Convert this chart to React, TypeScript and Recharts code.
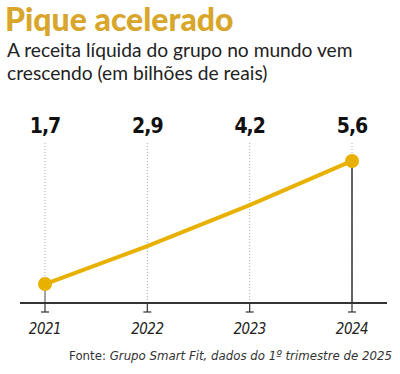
import { LineChart, Line, XAxis, YAxis, ReferenceLine } from "recharts";

const years = ["2021", "2022", "2023", "2024"];
const revenue = [1.7, 2.9, 4.2, 5.6];
const valueLabels = ["1,7", "2,9", "4,2", "5,6"];

const data = years.map((year, i) => ({ year, value: revenue[i], label: valueLabels[i] }));

const GOLD = "#E8B100";
const NARROW = '"Liberation Sans Narrow", "DejaVu Sans Condensed", sans-serif';
const Y_MIN = 1.1;

const BottomTick = (props: any) => {
  const { x, y, payload } = props;
  return (
    <g>
      <line x1={x} y1={y - 8} x2={x} y2={y + 1} stroke="#333" strokeWidth={1.2} />
      <line x1={x - 4} y1={y + 1} x2={x + 4} y2={y + 1} stroke="#333" strokeWidth={1.2} />
      <text x={x} y={y + 23} textAnchor="middle" fontSize={15} fontStyle="italic" fill="#222" fontFamily={NARROW} letterSpacing={-0.5}>
        {payload.value}
      </text>
    </g>
  );
};

const TopTick = (props: any) => {
  const { x, y, index } = props;
  return (
    <text x={x} y={y - 1} textAnchor="middle" fontSize={21} fontWeight="bold" fill="#111" fontFamily={NARROW} letterSpacing={-1}>
      {valueLabels[index]}
    </text>
  );
};

const dot = (props: any) => {
  const { cx, cy, index } = props;
  if (index !== 0 && index !== data.length - 1) return <g key={`d-${index}`} />;
  return <circle key={`d-${index}`} cx={cx} cy={cy} r={7} fill={GOLD} />;
};

export default function App() {
  return (
    <div style={{ position: "absolute", left: 0, top: 0, width: 400, height: 374, background: "#fff", overflow: "hidden" }}>
      <div style={{ position: "absolute", left: 5, top: -1, fontFamily: "Lato, sans-serif", fontWeight: 900, fontSize: 32, color: "#D8A62A", lineHeight: "40px" }}>
        Pique acelerado
      </div>
      <div style={{ position: "absolute", left: 7, top: 38, fontFamily: "Lato, sans-serif", fontSize: 19.2, color: "#222", lineHeight: "23px" }}>
        A receita líquida do grupo no mundo vem
        <br />
        crescendo (em bilhões de reais)
      </div>
      <div style={{ position: "absolute", left: 0, top: 0 }}>
        <LineChart width={400} height={374} data={data} margin={{ top: 112, right: 13, bottom: 41, left: 20 }}>
          <XAxis
            xAxisId="top"
            orientation="top"
            dataKey="year"
            height={30}
            axisLine={false}
            tickLine={false}
            padding={{ left: 25, right: 35 }}
            tick={<TopTick />}
            interval={0}
          />
          <XAxis
            dataKey="year"
            height={30}
            axisLine={{ stroke: "#333", strokeWidth: 2 }}
            tickLine={false}
            padding={{ left: 25, right: 35 }}
            tick={<BottomTick />}
            interval={0}
          />
          <YAxis hide domain={[Y_MIN, 6.2]} />
          {years.map((yr) => (
            <ReferenceLine key={yr} x={yr} stroke="#aaa" strokeDasharray="1 2" />
          ))}
          <ReferenceLine
            segment={[{ x: years[0], y: revenue[0] }, { x: years[0], y: Y_MIN }]}
            stroke="#888"
            strokeWidth={1.5}
          />
          <ReferenceLine
            segment={[{ x: years[3], y: revenue[3] }, { x: years[3], y: Y_MIN }]}
            stroke="#333"
            strokeWidth={1.5}
          />
          <Line type="linear" dataKey="value" stroke={GOLD} strokeWidth={4} dot={dot} activeDot={false} isAnimationActive={false} />
        </LineChart>
      </div>
      <div style={{ position: "absolute", right: 8, top: 348, fontFamily: NARROW, fontSize: 13.1, color: "#333", whiteSpace: "nowrap" }}>
        Fonte: <i>Grupo Smart Fit, dados do 1º trimestre de 2025</i>
      </div>
    </div>
  );
}
